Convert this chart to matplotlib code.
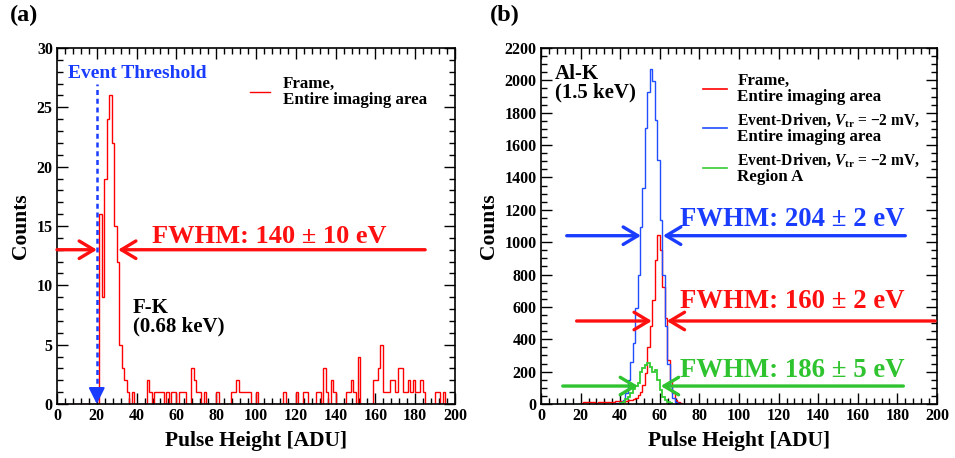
import numpy as np
import matplotlib
matplotlib.use("Agg")
import matplotlib.pyplot as plt
from matplotlib.ticker import MultipleLocator

plt.rcParams.update({
    "font.family": ["Liberation Serif", "DejaVu Serif"],
    "font.weight": "bold",
    "mathtext.fontset": "custom",
    "mathtext.rm": "Liberation Serif:bold",
    "mathtext.it": "Liberation Serif:italic:bold",
    "mathtext.bf": "Liberation Serif:bold",
    "axes.linewidth": 1.2,
})

BIN_WIDTH = 1.25  # ADU per histogram bin

# ---- (a) F-K line, frame mode -------------------------------------------
fk_peak_start = 21.25
fk_peak_counts = [16, 9, 19, 24, 26, 22, 15, 12, 5, 3, 2, 1, 0, 1]
fk_tail_adu = [45, 46.25, 48.75, 50, 51.25, 52.5, 55, 57.5, 58.75, 61.25,
               62.5, 63.75, 67.5, 68.75, 70, 71.25, 73.75, 80, 87.5, 88.75,
               90, 91.25, 92.5, 93.75, 95, 96.25, 100, 113.75, 120, 123.75,
               125, 130, 131.25, 133.75, 135, 137.5, 138.75, 145, 146.25, 147.5,
               148.75, 151.25, 158.75, 160, 161.25, 162.5, 163.75, 165, 166.25, 167.5,
               168.75, 170, 171.25, 172.5, 173.75, 175, 176.25, 177.5, 178.75, 180,
               181.25, 182.5, 183.75, 190, 191.25, 193.75]
fk_tail_counts = [2, 1, 1, 1, 1, 1, 1, 1, 1, 1,
                  1, 1, 3, 2, 1, 1, 1, 1, 1, 1,
                  2, 1, 1, 1, 1, 1, 1, 1, 1, 1,
                  1, 1, 1, 3, 1, 2, 1, 1, 1, 2,
                  1, 4, 2, 2, 3, 5, 1, 1, 1, 2,
                  2, 1, 3, 3, 1, 1, 2, 1, 2, 1,
                  1, 2, 1, 1, 1, 1]
fk_threshold = 20
fk_fwhm_level = 13
fk_fwhm_left = (0, 20.1)       # (tail, tip) in ADU
fk_fwhm_right = (185, 30.7)

# ---- (b) Al-K line -------------------------------------------------------
alk_frame_start = 20.0
alk_frame_counts = [8, 12, 10, 14, 11, 13, 9, 12, 15, 10, 13, 11, 14, 12, 16, 18,
                    18, 15, 20, 22, 25, 30, 40, 55, 75, 117, 190, 354, 480, 640,
                    890, 1045, 950, 725, 530, 272, 148, 66, 25, 10, 4]
alk_event_start = 36.25
alk_event_counts = [2, 4, 6, 10, 25, 66, 148, 262, 375, 591, 797, 1096, 1333, 1704,
                    1930, 2068, 1993, 1755, 1508, 1137, 800, 480, 250, 110, 40, 15, 5]
alk_region_start = 40.0
alk_region_counts = [5, 14, 30, 45, 70, 90, 110, 130, 200, 220, 241, 251, 230, 200,
                     210, 148, 87, 45, 25, 10, 4]

alk_fwhm_levels = [1040, 513, 111]           # event-driven, frame, region A
alk_fwhm_left = [(13, 50.5), (18, 56.0), (11, 49.0)]
alk_fwhm_right = [(184, 61.6), (199, 63.5), (183, 60.5)]
alk_fwhm_labels = ["FWHM: 204 \u00b1 2 eV", "FWHM: 160 \u00b1 2 eV", "FWHM: 186 \u00b1 5 eV"]

RED = "#ff1010"
BLUE = "#1a3cff"
GREEN = "#2fc42f"
HIST_RED = "#ff0000"
HIST_BLUE = "#1f4dff"
HIST_GREEN = "#33cc33"


def stairs(ax, start, counts, color, lw=1.0, z=2):
    counts = np.asarray(counts, dtype=float)
    edges = start + BIN_WIDTH * np.arange(len(counts) + 1)
    ax.stairs(counts, edges, color=color, lw=lw, baseline=0, zorder=z)


def fwhm_arrows(ax, level, left, right, color):
    style = "->,head_length=0.75,head_width=0.45"
    for tail, tip in (left, right):
        ax.annotate("", xy=(tip, level), xytext=(tail, level),
                    arrowprops=dict(arrowstyle=style, color=color, lw=2.4,
                                    shrinkA=0, shrinkB=0, mutation_scale=14),
                    zorder=5)


def style_axes(ax, ymax, ymajor, yminor):
    ax.set_xlim(0, 200)
    ax.set_ylim(0, ymax)
    ax.xaxis.set_major_locator(MultipleLocator(20))
    ax.xaxis.set_minor_locator(MultipleLocator(4))
    ax.yaxis.set_major_locator(MultipleLocator(ymajor))
    ax.yaxis.set_minor_locator(MultipleLocator(yminor))
    ax.tick_params(which="both", direction="in", top=True, right=True,
                   width=1.0, labelsize=11.5)
    ax.tick_params(which="major", length=8)
    ax.tick_params(which="minor", length=4)
    ax.tick_params(axis="x", pad=3)
    ax.tick_params(axis="y", pad=3)
    for lab in ax.get_xticklabels() + ax.get_yticklabels():
        lab.set_fontweight("bold")
    ax.set_xlabel("Pulse Height [ADU]", fontsize=15.5, fontweight="bold", labelpad=5)
    ax.set_ylabel("Counts", fontsize=15.5, fontweight="bold", labelpad=4)


fig = plt.figure(figsize=(9.55, 4.58), dpi=100)
ax_a = fig.add_axes([57 / 955, 54 / 458, 398 / 955, 356 / 458])
ax_b = fig.add_axes([541 / 955, 54 / 458, 396 / 955, 356 / 458])

# ---------------- panel (a) ----------------
fk_counts = np.zeros(int(round(200 / BIN_WIDTH)))
for i, c in enumerate(fk_peak_counts):
    fk_counts[int(round(fk_peak_start / BIN_WIDTH)) + i] = c
for adu, c in zip(fk_tail_adu, fk_tail_counts):
    fk_counts[int(round(adu / BIN_WIDTH))] = c
stairs(ax_a, 0.0, fk_counts, HIST_RED)

ax_a.vlines(fk_threshold, 1.0, 27.0, colors=BLUE, linestyles=(0, (2.0, 1.5)),
            lw=1.8, zorder=4)
ax_a.annotate("", xy=(fk_threshold, 0), xytext=(fk_threshold, 1.2),
              arrowprops=dict(arrowstyle="-|>,head_length=0.7,head_width=0.35",
                              color=BLUE, lw=1.5, shrinkA=0, shrinkB=0,
                              mutation_scale=14), zorder=4)
ax_a.text(0.028, 0.927, "Event Threshold", transform=ax_a.transAxes,
          color=BLUE, fontsize=14, fontweight="bold", va="center", ha="left")

fwhm_arrows(ax_a, fk_fwhm_level, fk_fwhm_left, fk_fwhm_right, RED)
ax_a.text(0.239, 0.47, "FWHM: 140 \u00b1 10 eV", transform=ax_a.transAxes,
          color=RED, fontsize=19, fontweight="bold", va="center", ha="left")
ax_a.text(0.191, 0.243, "F-K\n(0.68 keV)", transform=ax_a.transAxes,
          color="black", fontsize=15, fontweight="bold", va="center", ha="left",
          linespacing=0.92)

# legend
ax_a.plot([0.485, 0.535], [0.876, 0.876], transform=ax_a.transAxes,
          color=HIST_RED, lw=1.0)
ax_a.text(0.568, 0.876, "Frame,\nEntire imaging area", transform=ax_a.transAxes,
          fontsize=12.2, fontweight="bold", va="center", ha="left", linespacing=1.0)

style_axes(ax_a, 30, 5, 1)
fig.text(24 / 955, 1 - 15 / 458, "(a)", fontsize=17.5, fontweight="bold",
         ha="center", va="center")

# ---------------- panel (b) ----------------
stairs(ax_b, alk_frame_start, alk_frame_counts, HIST_RED)
stairs(ax_b, alk_event_start, alk_event_counts, HIST_BLUE)
stairs(ax_b, alk_region_start, alk_region_counts, HIST_GREEN, lw=1.3)

for level, left, right, color in zip(alk_fwhm_levels, alk_fwhm_left,
                                     alk_fwhm_right, [BLUE, RED, GREEN]):
    fwhm_arrows(ax_b, level, left, right, color)

label_y = [0.518, 0.288, 0.094]
for lab, y, color in zip(alk_fwhm_labels, label_y, [BLUE, RED, GREEN]):
    ax_b.text(0.351, y, lab, transform=ax_b.transAxes, color=color,
              fontsize=19.3, fontweight="bold", va="center", ha="left")

ax_b.text(0.036, 0.901, "Al-K\n(1.5 keV)", transform=ax_b.transAxes,
          fontsize=15, fontweight="bold", va="center", ha="left", linespacing=0.92)

# legend: each entry has a title line and a second line
legend_first = ["Frame,",
                "Event-Driven, $V_{\\mathrm{tr}}$ = \u22122 mV,",
                "Event-Driven, $V_{\\mathrm{tr}}$ = \u22122 mV,"]
legend_second = ["Entire imaging area", "Entire imaging area", "Region A"]
legend_colors = [HIST_RED, HIST_BLUE, HIST_GREEN]
legend_y = [0.885, 0.774, 0.662]
line_gap = 0.024
for first, second, color, y in zip(legend_first, legend_second, legend_colors, legend_y):
    ax_b.plot([0.409, 0.470], [y, y], transform=ax_b.transAxes, color=color, lw=1.2)
    ax_b.text(0.496, y + line_gap, first, transform=ax_b.transAxes,
              fontsize=11.2 if "$" in first else 12.2,
              fontweight="bold", va="center", ha="left")
    ax_b.text(0.496, y - line_gap, second, transform=ax_b.transAxes, fontsize=12.2,
              fontweight="bold", va="center", ha="left")

style_axes(ax_b, 2200, 200, 50)
fig.text(505 / 955, 1 - 15 / 458, "(b)", fontsize=17.5, fontweight="bold",
         ha="center", va="center")

fig.savefig("out.png", dpi=100, facecolor="white")
